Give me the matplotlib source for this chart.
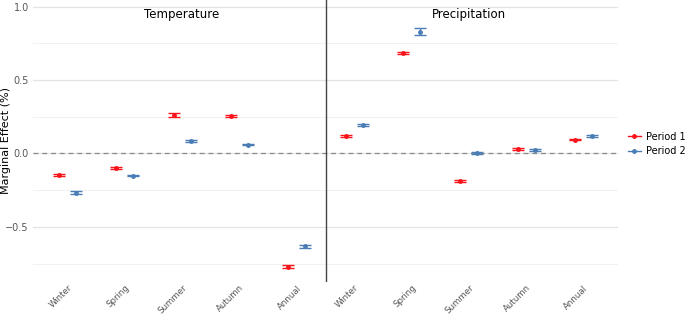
import matplotlib
matplotlib.use("Agg")
import matplotlib.pyplot as plt
import matplotlib.transforms as mtransforms
from matplotlib.lines import Line2D
import numpy as np

# categories along the x axis (two blocks of five)
seasons = ["Winter", "Spring", "Summer", "Autumn", "Annual"]
blocks = ["Temperature", "Precipitation"]
labels = seasons + seasons

# marginal effects
p1_mean = [-0.145, -0.100, 0.262, 0.253, -0.771,
           0.120, 0.685, -0.188, 0.032, 0.095]
p1_err = [0.006, 0.005, 0.015, 0.006, 0.012,
          0.006, 0.006, 0.005, 0.007, 0.006]
p2_mean = [-0.267, -0.150, 0.083, 0.061, -0.631,
           0.192, 0.830, 0.005, 0.025, 0.117]
p2_err = [0.010, 0.005, 0.006, 0.006, 0.010,
          0.006, 0.023, 0.006, 0.006, 0.007]

red = "#F8141A"
blue = "#4A7DB5"

fig = plt.figure(figsize=(6.85, 3.15), dpi=100)
ax = fig.add_axes([33 / 685, 1 - 282 / 315, (618 - 33) / 685, 282 / 315])

x = np.arange(1, len(labels) + 1)
dodge = 0.15

ax.errorbar(x - dodge, p1_mean, yerr=p1_err, fmt="o", color=red, ms=2.5,
            elinewidth=1.0, capsize=4.5, capthick=1.0, zorder=3)
ax.errorbar(x + dodge, p2_mean, yerr=p2_err, fmt="o", color=blue, ms=2.5,
            elinewidth=1.0, capsize=4.5, capthick=1.0, zorder=3)

ax.axhline(0, color="#8a8a8a", ls=(0, (4, 3)), lw=0.9, zorder=2)
ax.axvline(5.5, color="#444444", lw=1.0, zorder=2)

ax.set_xlim(0.4, 10.6)
ax.set_ylim(-0.875, 1.045)

# grid like ggplot theme_minimal
ax.set_yticks([-0.5, 0.0, 0.5, 1.0])
ax.set_yticks([-0.75, -0.25, 0.25, 0.75], minor=True)
ax.grid(axis="y", which="major", color="#e3e3e3", lw=0.9)
ax.grid(axis="y", which="minor", color="#efefef", lw=0.6)
ax.set_axisbelow(True)
for s in ax.spines.values():
    s.set_visible(False)

ax.set_xticks(x)
ax.set_xticklabels(labels, rotation=45, ha="right", va="top",
                   rotation_mode="anchor", color="#555555", fontsize=6.2)
shift = mtransforms.ScaledTranslation(5 / 100, 0, fig.dpi_scale_trans)
for t in ax.get_xticklabels():
    t.set_transform(t.get_transform() + shift)
ax.tick_params(axis="both", which="both", length=0)
ax.tick_params(axis="x", pad=1)
ax.tick_params(axis="y", labelcolor="#555555", labelsize=7, pad=3)
ax.set_ylabel("Marginal Effect (%)", fontsize=8)
ax.yaxis.set_label_coords(-0.037, 0.5)

ax.text(3, 0.945, blocks[0], ha="center", va="center", fontsize=8.5)
ax.text(8, 0.945, blocks[1], ha="center", va="center", fontsize=8.5)

handles = [Line2D([], [], color=red, marker="o", ms=2.5, lw=1.0),
           Line2D([], [], color=blue, marker="o", ms=2.5, lw=1.0)]
fig.legend(handles, ["Period 1", "Period 2"], loc="center left",
           bbox_to_anchor=(628 / 685, 1 - 144 / 315), frameon=False,
           fontsize=7, handlelength=1.3, handletextpad=0.6, labelspacing=0.5,
           borderaxespad=0, borderpad=0)

fig.savefig("out.png", dpi=100)
